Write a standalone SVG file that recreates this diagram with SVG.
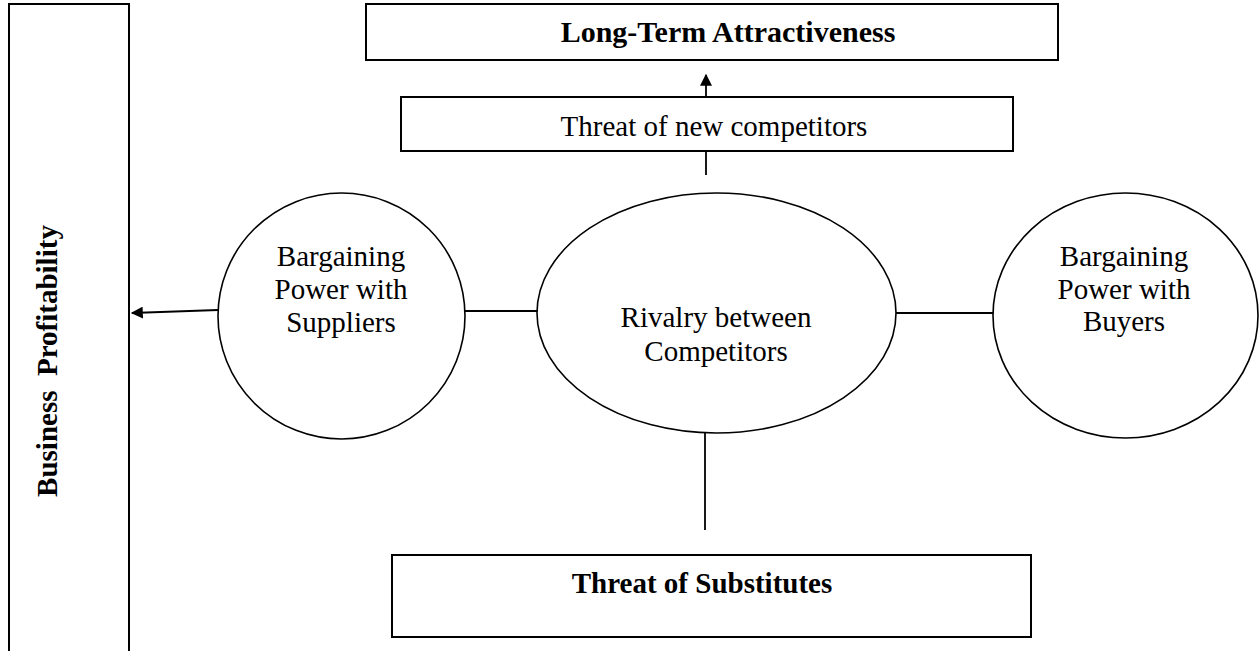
<svg xmlns="http://www.w3.org/2000/svg" width="1260" height="651" viewBox="0 0 1260 651">
<style>
.box{fill:#fff;stroke:#000;stroke-width:2}
.sh{fill:#fff;stroke:#000;stroke-width:1.6}
.t{font-family:"Liberation Serif","Times New Roman",serif;font-size:29px;fill:#000}
.b{font-weight:bold}
.c{stroke:#000;stroke-width:1.8;fill:none}
</style>
<defs>
<marker id="ah" viewBox="0 0 10 10" refX="9" refY="5" markerWidth="15" markerHeight="12" markerUnits="userSpaceOnUse" orient="auto">
<path d="M0,0 L10,5 L0,10 z" fill="#000"/>
</marker>
</defs>
<rect width="1260" height="651" fill="#fff"/>
<g id="connectors">
<line class="c" x1="218" y1="310" x2="132" y2="313" marker-end="url(#ah)"/>
<line class="c" x1="706" y1="105" x2="706" y2="75" marker-end="url(#ah)"/>
<line class="c" x1="706" y1="145" x2="706" y2="175"/>
<line class="c" x1="465" y1="311" x2="537" y2="311"/>
<line class="c" x1="896" y1="313" x2="993" y2="313"/>
<line class="c" x1="705" y1="433" x2="705" y2="530"/>
</g>
<g id="business-profitability">
<rect class="box" x="9" y="4" width="120" height="660"/>
<text class="t b" transform="rotate(-90)" x="-361" y="57" text-anchor="middle" xml:space="preserve">Business  Profitability</text>
</g>
<g id="long-term-attractiveness">
<rect class="box" x="366" y="4" width="692" height="56"/>
<text class="t b" style="font-size:30px" x="728" y="42" text-anchor="middle">Long-Term Attractiveness</text>
</g>
<g id="threat-new-competitors">
<rect class="box" x="401" y="97" width="612" height="54"/>
<text class="t" x="714" y="136" text-anchor="middle">Threat of new competitors</text>
</g>
<g id="suppliers">
<ellipse class="sh" cx="341.5" cy="316" rx="123.5" ry="123"/>
<text class="t" text-anchor="middle"><tspan x="341" y="266">Bargaining</tspan><tspan x="341" y="299">Power with</tspan><tspan x="341" y="332">Suppliers</tspan></text>
</g>
<g id="rivalry">
<ellipse class="sh" cx="716.5" cy="313" rx="179.5" ry="120"/>
<text class="t" text-anchor="middle"><tspan x="716" y="327">Rivalry between</tspan><tspan x="716" y="361">Competitors</tspan></text>
</g>
<g id="buyers">
<ellipse class="sh" cx="1125.5" cy="315.5" rx="132.5" ry="122.5"/>
<text class="t" text-anchor="middle"><tspan x="1124" y="266">Bargaining</tspan><tspan x="1124" y="299">Power with</tspan><tspan x="1124" y="331">Buyers</tspan></text>
</g>
<g id="threat-substitutes">
<rect class="box" x="392" y="555" width="639" height="82"/>
<text class="t b" x="702" y="593" text-anchor="middle">Threat of Substitutes</text>
</g>
</svg>
